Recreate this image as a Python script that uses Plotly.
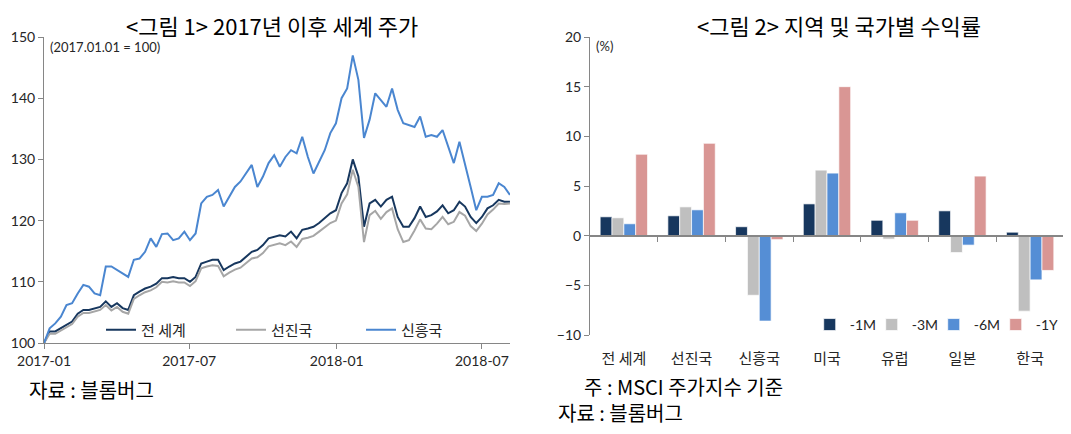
import pandas as pd
import plotly.graph_objects as go

# ---- Figure 1: world stock indices (2017.01.01 = 100), weekly readings ----
dates = pd.date_range('2017-01-01', periods=84, freq='7D')

world = [
    100.0, 101.9, 101.9, 102.4, 102.9, 103.5, 104.8, 105.4, 105.4, 105.7,
    105.9, 106.8, 105.9, 106.5, 105.7, 105.4, 107.8, 108.4, 108.9, 109.2,
    109.7, 110.6, 110.6, 110.8, 110.6, 110.6, 110.0, 110.8, 113.0, 113.3,
    113.6, 113.6, 111.9, 112.5, 113.0, 113.3, 114.1, 114.9, 115.2, 116.0,
    117.1, 117.4, 117.6, 117.4, 118.2, 117.1, 118.5, 118.7, 119.0, 119.6,
    120.4, 121.2, 121.7, 124.5, 126.1, 130.0, 127.2, 119.0, 122.8, 123.4,
    122.3, 123.4, 123.9, 120.6, 119.0, 119.0, 120.4, 122.3, 120.6, 120.9,
    121.5, 122.5, 121.2, 121.7, 123.1, 122.3, 120.6, 119.6, 120.6, 122.0,
    122.5, 123.4, 123.1, 123.1,
]

developed = [
    100.0, 101.5, 101.5, 102.0, 102.5, 103.1, 104.3, 104.9, 104.9, 105.2,
    105.4, 106.2, 105.3, 105.9, 105.1, 104.8, 107.2, 107.8, 108.3, 108.6,
    109.1, 110.0, 109.9, 110.1, 109.9, 109.9, 109.3, 110.1, 112.2, 112.5,
    112.7, 112.6, 110.9, 111.5, 112.0, 112.3, 113.0, 113.8, 114.0, 114.7,
    115.8, 116.0, 116.3, 116.0, 116.6, 115.7, 117.0, 117.2, 117.5, 118.2,
    118.9, 119.6, 120.0, 122.8, 124.3, 128.3, 125.5, 116.5, 120.9, 121.6,
    120.3, 121.4, 122.0, 118.6, 116.5, 116.8, 118.4, 120.2, 118.7, 118.6,
    119.5, 120.6, 119.4, 119.8, 121.4, 120.8, 119.1, 118.3, 119.5, 121.0,
    121.8, 122.8, 122.7, 122.8,
]

emerging = [
    100.0, 102.4, 103.2, 104.3, 106.2, 106.5, 108.1, 109.5, 109.2, 108.1,
    107.8, 112.5, 112.5, 111.9, 111.4, 110.8, 113.6, 113.8, 114.9, 117.1,
    115.7, 117.8, 117.9, 116.8, 117.1, 118.2, 116.8, 117.9, 122.8, 123.9,
    124.2, 125.0, 122.3, 123.9, 125.5, 126.4, 127.7, 129.1, 125.5, 127.2,
    129.4, 130.7, 128.8, 130.4, 131.5, 131.0, 133.7, 130.4, 127.7, 129.6,
    131.5, 134.3, 135.9, 140.0, 141.6, 147.0, 143.0, 133.5, 136.5, 140.8,
    139.7, 138.6, 141.6, 138.1, 135.9, 135.6, 135.3, 137.0, 133.7, 134.0,
    133.7, 134.8, 132.1, 129.4, 132.9, 129.4, 125.5, 121.7, 123.9, 123.9,
    124.2, 126.1, 125.5, 124.2,
]

line_names = ['전 세계', '선진국', '신흥국']
line_colors = ['#17375E', '#A6A6A6', '#4A86D0']

# ---- Figure 2: returns by region / country (%) ----
regions = ['전 세계', '선진국', '신흥국', '미국', '유럽', '일본', '한국']
ret_1m = [1.9, 2.0, 0.9, 3.2, 1.55, 2.5, 0.35]
ret_3m = [1.8, 2.9, -6.0, 6.6, -0.35, -1.7, -7.6]
ret_6m = [1.2, 2.6, -8.6, 6.3, 2.3, -0.95, -4.45]
ret_1y = [8.2, 9.3, -0.4, 15.0, 1.55, 6.0, -3.5]

bar_names = ['-1M', '-3M', '-6M', '-1Y']
bar_colors = ['#17375E', '#BFBFBF', '#558ED5', '#D99694']

TICK_FONT = dict(family='Lato, Liberation Sans', size=14, color='#262626')
KR_FONT = 'Noto Sans CJK KR'
AXIS_COLOR = '#868686'

# the page adds an 8px body margin, so the figure is sized to fit inside it
WIDTH, HEIGHT = 1063, 426


def build_figure():
    fig = go.Figure()

    for name, values, color in zip(line_names, [world, developed, emerging], line_colors):
        fig.add_trace(go.Scatter(
            x=dates, y=values, name=name, mode='lines',
            line=dict(color=color, width=2),
            xaxis='x', yaxis='y', legend='legend',
        ))

    for name, values, color in zip(bar_names, [ret_1m, ret_3m, ret_6m, ret_1y], bar_colors):
        fig.add_trace(go.Bar(
            x=regions, y=values, name=name,
            marker=dict(color=color, line=dict(color='rgba(255,255,255,0.7)', width=1)),
            xaxis='x2', yaxis='y2', legend='legend2',
        ))

    # invisible trace so the zero-line axis of figure 2 gets drawn
    fig.add_trace(go.Scatter(
        x=[0], y=[0], mode='markers', marker=dict(opacity=0),
        xaxis='x3', yaxis='y2', showlegend=False, hoverinfo='skip',
    ))

    fig.update_layout(
        width=WIDTH, height=HEIGHT,
        margin=dict(l=0, r=0, t=0, b=0, autoexpand=False),
        paper_bgcolor='white', plot_bgcolor='white',
        barmode='group', bargap=0.3, bargroupgap=0,
        xaxis=dict(
            domain=[0.0339, 0.4722], type='date',
            range=['2017-01-01', '2018-08-05'],
            tickvals=['2017-01-01', '2017-07-01', '2018-01-01', '2018-07-01'],
            tickformat='%Y-%m', ticks='outside', ticklen=5,
            tickcolor=AXIS_COLOR, showline=True, linecolor=AXIS_COLOR,
            showgrid=False, zeroline=False, tickfont=TICK_FONT,
            automargin=False,
        ),
        yaxis=dict(
            domain=[0.2136, 0.9319], range=[100, 150], dtick=10,
            ticks='outside', ticklen=5, tickcolor=AXIS_COLOR,
            showline=True, linecolor=AXIS_COLOR,
            showgrid=False, zeroline=False, tickfont=TICK_FONT,
            automargin=False,
        ),
        xaxis2=dict(
            domain=[0.5475, 0.9934], anchor='y2', range=[-0.5, 6.5],
            showline=False, ticks='', showgrid=False, zeroline=False,
            tickfont=dict(family=KR_FONT, size=15, color='#262626'),
            ticklabelstandoff=13, automargin=False,
        ),
        xaxis3=dict(
            domain=[0.5475, 0.9934], overlaying='x2', anchor='free',
            position=0.4648, range=[-0.5, 6.5],
            tickvals=[0.5, 1.5, 2.5, 3.5, 4.5, 5.5],
            ticks='outside', ticklen=5, tickcolor=AXIS_COLOR,
            showline=True, linecolor=AXIS_COLOR, linewidth=1.5,
            showticklabels=False, showgrid=False, zeroline=False,
            automargin=False,
        ),
        yaxis2=dict(
            domain=[0.2324, 0.9319], anchor='x2', range=[-10, 20], dtick=5,
            ticks='outside', ticklen=5, tickcolor=AXIS_COLOR,
            showline=True, linecolor=AXIS_COLOR,
            showgrid=False, zeroline=False, tickfont=TICK_FONT,
            automargin=False,
        ),
        legend=dict(
            orientation='h', x=0.0875, y=0.244, xanchor='left', yanchor='middle',
            entrywidth=85, font=dict(family=KR_FONT, size=15, color='#262626'),
            bgcolor='rgba(0,0,0,0)', tracegroupgap=0,
        ),
        legend2=dict(
            orientation='h', x=0.7542, y=0.256, xanchor='left', yanchor='middle',
            itemwidth=30, entrywidth=17,
            font=dict(family='Lato, Liberation Sans', size=14, color='#262626'),
            bgcolor='rgba(0,0,0,0)',
        ),
        showlegend=True,
    )

    titles = [
        ('<그림 1> 2017년 이후 세계 주가', 0.2484),
        ('<그림 2> 지역 및 국가별 수익률', 0.7818),
    ]
    for text, x in titles:
        fig.add_annotation(
            text=text, xref='paper', yref='paper', x=x, y=1.0,
            xanchor='center', yanchor='top', showarrow=False, borderpad=0,
            font=dict(family=KR_FONT, size=22, color='black'),
        )

    notes = [
        ('자료 : 블롬버그', 0.0188, 0.1056),
        ('주 : MSCI 주가지수 기준', 0.5409, 0.1120),
        ('자료 : 블롬버그', 0.5165, 0.0500),
    ]
    for text, x, y in notes:
        fig.add_annotation(
            text=text, xref='paper', yref='paper', x=x, y=y,
            xanchor='left', yanchor='middle', showarrow=False, borderpad=0,
            font=dict(family=KR_FONT, size=20, color='black'),
        )

    fig.add_annotation(
        text='(2017.01.01 = 100)', xref='paper', yref='paper',
        x=0.0376, y=0.9085, xanchor='left', yanchor='middle', showarrow=False,
        font=dict(family='Lato, Liberation Sans', size=13, color='#262626'),
    )
    fig.add_annotation(
        text='(%)', xref='paper', yref='paper',
        x=0.5513, y=0.9108, xanchor='left', yanchor='middle', showarrow=False,
        font=dict(family='Lato, Liberation Sans', size=13, color='#262626'),
    )

    return fig


fig = build_figure()
fig.write_html('out.html')
